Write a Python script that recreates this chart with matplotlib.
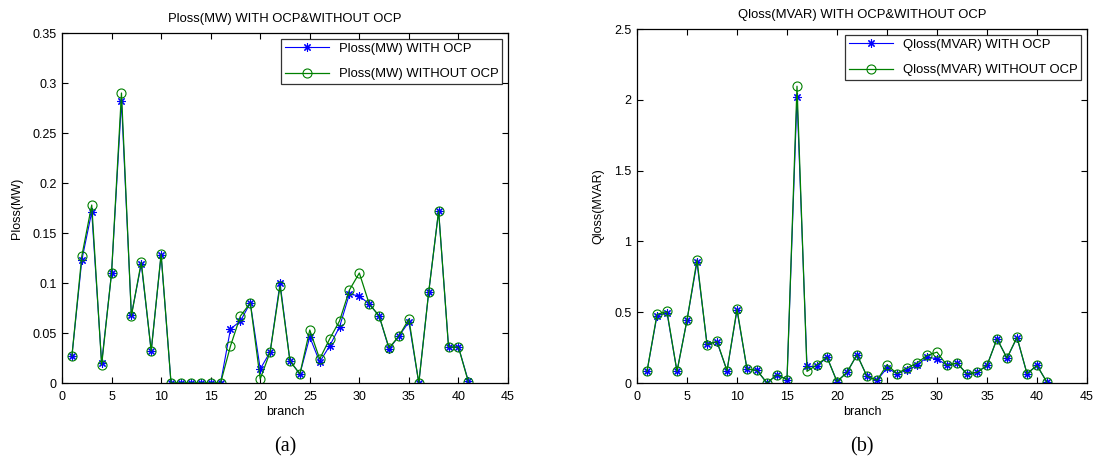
import matplotlib
matplotlib.use("Agg")
import matplotlib.pyplot as plt
import numpy as np

branch = list(range(1, 42))

ploss_with = [0.027, 0.123, 0.171, 0.020, 0.110, 0.282, 0.068, 0.119, 0.032, 0.128,
              0, 0, 0, 0, 0, 0, 0.054, 0.062, 0.080, 0.014,
              0.031, 0.100, 0.022, 0.009, 0.046, 0.021, 0.037, 0.056, 0.089, 0.087,
              0.079, 0.067, 0.034, 0.047, 0.061, 0.0, 0.091, 0.172, 0.036, 0.036, 0.002]
ploss_without = [0.027, 0.127, 0.178, 0.018, 0.110, 0.290, 0.067, 0.121, 0.032, 0.129,
                 0, 0, 0, 0, 0, 0, 0.037, 0.067, 0.080, 0.004,
                 0.031, 0.097, 0.022, 0.009, 0.053, 0.024, 0.044, 0.062, 0.093, 0.110,
                 0.079, 0.067, 0.035, 0.047, 0.064, 0.0, 0.091, 0.172, 0.036, 0.036, 0.001]

qloss_with = [0.082, 0.475, 0.495, 0.082, 0.445, 0.852, 0.278, 0.290, 0.087, 0.513,
              0.099, 0.089, 0.0, 0.059, 0.023, 2.020, 0.117, 0.117, 0.183, 0.010,
              0.075, 0.200, 0.047, 0.019, 0.106, 0.066, 0.089, 0.124, 0.183, 0.171,
              0.124, 0.141, 0.063, 0.075, 0.124, 0.312, 0.176, 0.320, 0.066, 0.124, 0.005]
qloss_without = [0.082, 0.485, 0.505, 0.082, 0.443, 0.870, 0.270, 0.294, 0.087, 0.523,
                 0.099, 0.089, 0.0, 0.059, 0.023, 2.096, 0.082, 0.129, 0.183, 0.010,
                 0.075, 0.200, 0.047, 0.019, 0.129, 0.066, 0.106, 0.141, 0.195, 0.218,
                 0.124, 0.141, 0.063, 0.075, 0.124, 0.312, 0.176, 0.324, 0.066, 0.124, 0.005]

ploss_yticks = [0, 0.05, 0.1, 0.15, 0.2, 0.25, 0.3, 0.35]
ploss_yticklabels = ["0", "0.05", "0.1", "0.15", "0.2", "0.25", "0.3", "0.35"]
qloss_yticks = [0, 0.5, 1, 1.5, 2, 2.5]
qloss_yticklabels = ["0", "0.5", "1", "1.5", "2", "2.5"]
xticks = [0, 5, 10, 15, 20, 25, 30, 35, 40, 45]

plt.rcParams['font.family'] = ['Liberation Sans', 'DejaVu Sans']

W, H = 1097, 459
fig = plt.figure(figsize=(W / 100, H / 100), dpi=100)

def ax_rect(x0, y0, x1, y1):
    return [x0 / W, 1 - y1 / H, (x1 - x0) / W, (y1 - y0) / H]

panels = [
    (ax_rect(62, 33, 508, 383), ploss_with, ploss_without, "Ploss(MW)",
     ploss_yticks, ploss_yticklabels, 0.35, "(a)", 23),
    (ax_rect(637, 29, 1087, 383), qloss_with, qloss_without, "Qloss(MVAR)",
     qloss_yticks, qloss_yticklabels, 2.5, "(b)", 604),
]

for rect, yw, ywo, name, yt, ytl, ymax, cap, ylab_x in panels:
    ax = fig.add_axes(rect)
    ax.plot(branch, yw, color='#0000ff', marker=(8, 2, 0), markersize=6, lw=0.8,
            markeredgewidth=0.8, label=f"{name} WITH OCP")
    ax.plot(branch, ywo, color='#008000', marker='o', markersize=6.5, lw=0.9,
            markerfacecolor='none', markeredgewidth=0.8,
            label=f"{name} WITHOUT OCP")
    ax.set_xlim(0, 45)
    ax.set_ylim(0, ymax)
    ax.set_xticks(xticks)
    ax.set_yticks(yt)
    ax.set_yticklabels(ytl)
    ax.tick_params(direction='in', top=True, right=True, labelsize=9, length=4,
                   width=0.8)
    ax.tick_params(axis='x', pad=6)
    ax.tick_params(axis='y', pad=4)
    for s in ax.spines.values():
        s.set_linewidth(0.9)
    ax.set_title(f"{name} WITH OCP&WITHOUT OCP", fontsize=9.4, pad=8)
    ax.set_xlabel("branch", fontsize=9, labelpad=2)
    ax.set_ylabel(name, fontsize=9)
    bbox = ax.get_position()
    ax.yaxis.set_label_coords((ylab_x / W - bbox.x0) / bbox.width, 0.5)
    leg = ax.legend(loc='upper right', fontsize=9.4, frameon=True, fancybox=False,
                    edgecolor='black', borderaxespad=0.45, handlelength=3.4,
                    handletextpad=0.7, borderpad=0.3, labelspacing=1.0)
    leg.get_frame().set_linewidth(0.9)
    cx = rect[0] + rect[2] / 2
    fig.text(cx, 1 - 447 / H, cap, ha='center', va='center', fontsize=14.5,
             family='Liberation Serif')

fig.savefig("out.png", dpi=100)
